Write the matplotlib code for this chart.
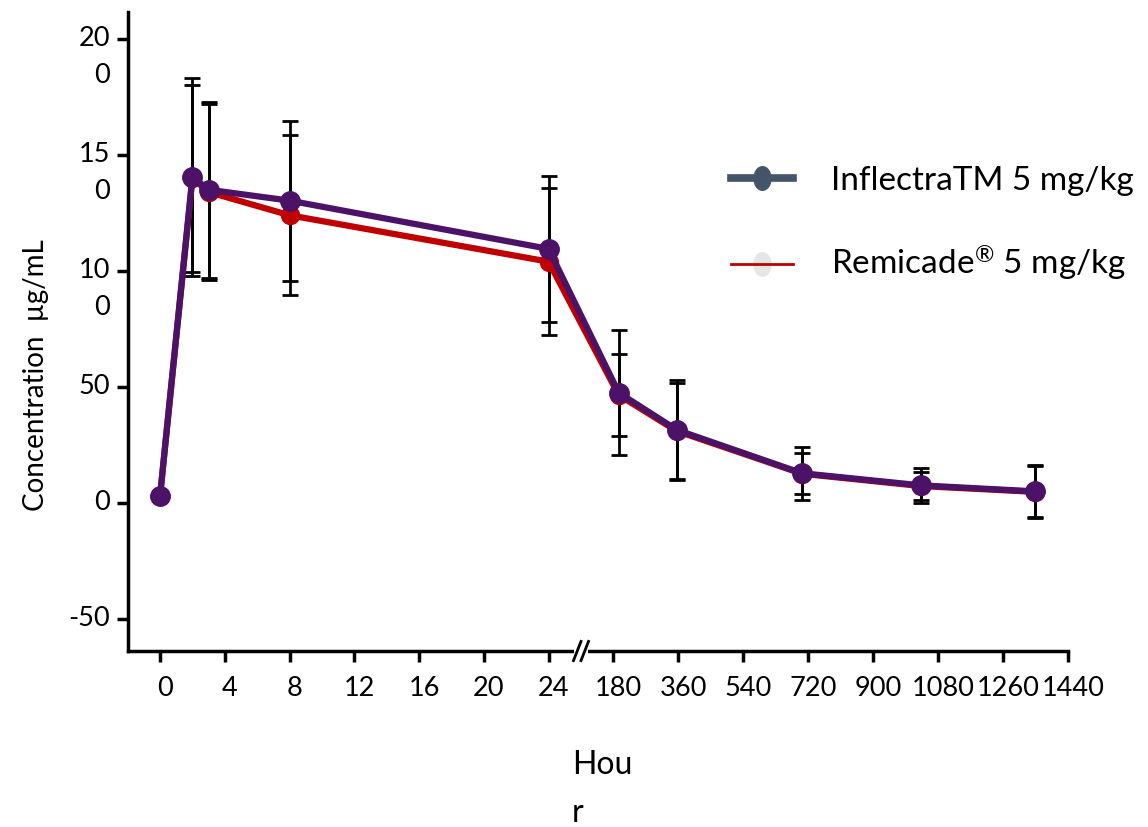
import numpy as np
import matplotlib
matplotlib.use("Agg")
import matplotlib.pyplot as plt
import matplotlib.transforms as mtransforms
from matplotlib.lines import Line2D
from matplotlib.path import Path
from matplotlib.legend_handler import HandlerTuple

plt.rcParams['font.family'] = ['Lato', 'DejaVu Sans']
plt.rcParams['mathtext.fontset'] = 'custom'
plt.rcParams['mathtext.rm'] = 'Lato'
plt.rcParams['mathtext.it'] = 'Lato'

# time points (hours) and mean +/- SD concentrations
hours = [0, 2, 3, 8, 24, 195, 356, 703, 1032, 1348]

inflectra_mean = [3, 140.5, 135, 130.3, 109.5, 47.5, 31.5, 12.8, 7.6, 5.0]
inflectra_sd = [2, 42.5, 38, 34.5, 31.5, 27, 21.5, 11.5, 7.5, 11.5]

remicade_mean = [3, 140, 134, 124, 104, 46.5, 31, 12.6, 7.3, 4.8]
remicade_sd = [2, 40.3, 38, 34.5, 31.7, 17.8, 20.5, 8.8, 6.0, 11.0]

xticks = [0, 4, 8, 12, 16, 20, 24, 180, 360, 540, 720, 900, 1080, 1260, 1440]
yticks = [-50, 0, 50, 100, 150, 200]
ytick_labels = ['-50', '0', '50', '10\n0', '15\n0', '20\n0']

PURPLE = '#4B1268'
RED = '#C00000'

# broken time axis: 0-24 h stretched, 180-1440 h compressed
A = 16.19          # units per hour below 24 h
B = 0.3609         # units per hour above 180 h
P24 = 24 * A
P180 = 453.3


def fwd(h):
    h = np.asarray(h, dtype=float)
    mid = P24 + (h - 24) * (P180 - P24) / 156.0
    return np.where(h <= 24, h * A, np.where(h < 180, mid, P180 + (h - 180) * B))


def inv(p):
    p = np.asarray(p, dtype=float)
    mid = 24 + (p - P24) * 156.0 / (P180 - P24)
    return np.where(p <= P24, p / A, np.where(p < P180, mid, 180 + (p - P180) / B))


fig = plt.figure(figsize=(11.48, 8.27), dpi=100)
ax = fig.add_axes([128 / 1148, 1 - 651 / 827, 940 / 1148, 639 / 827])
ax.set_xscale('function', functions=(fwd, inv))

ax.errorbar(hours, remicade_mean, yerr=remicade_sd, fmt='none', ecolor='black',
            elinewidth=2, capsize=6, capthick=2, zorder=2)
ax.errorbar(hours, inflectra_mean, yerr=inflectra_sd, fmt='none', ecolor='black',
            elinewidth=2, capsize=6, capthick=2, zorder=2)
ax.plot(hours, remicade_mean, color=RED, lw=4.5, marker='o', ms=13,
        mfc=RED, mec=RED, zorder=3)
ax.plot(hours, inflectra_mean, color=PURPLE, lw=4.5, marker='o', ms=14,
        mfc=PURPLE, mec=PURPLE, zorder=4)

ax.set_xlim(-1.98, 1440)
ax.set_ylim(-63.8, 211.6)

ax.set_xticks(xticks)
ax.set_xticklabels([str(t) for t in xticks], fontsize=19.5)
ax.set_yticks(yticks)
ax.set_yticklabels(ytick_labels, fontsize=19.5)
ax.minorticks_off()

for side in ['top', 'right']:
    ax.spines[side].set_visible(False)
for side in ['left', 'bottom']:
    ax.spines[side].set_linewidth(2.5)
ax.tick_params(axis='both', direction='out', length=8, width=2.5, pad=5)
ax.tick_params(axis='x', pad=10)

# keep the first line of wrapped y labels level with its tick
yoff = mtransforms.ScaledTranslation(0, 0.13, fig.dpi_scale_trans)
for lab in ax.get_yticklabels():
    lab.set_verticalalignment('top')
    lab.set_linespacing(1.6)
    lab.set_transform(lab.get_transform() + yoff)
xoff = mtransforms.ScaledTranslation(0.05, 0, fig.dpi_scale_trans)
for lab in ax.get_xticklabels():
    lab.set_transform(lab.get_transform() + xoff)

ax.set_ylabel('Concentration  µg/mL', fontsize=20)
ax.yaxis.set_label_coords(-0.084, 0.432)
fig.text(572 / 1148, 1 - 750 / 827, 'Hou\nr', fontsize=23, ha='left', va='top',
         linespacing=1.75)

# axis break marks
bx = (581 - 128) / 940
ax.add_patch(plt.Rectangle((bx - 0.007, -0.01), 0.014, 0.02, transform=ax.transAxes,
                           facecolor='white', edgecolor='none', clip_on=False, zorder=5))
for dx in (-0.004, 0.004):
    ax.plot([bx + dx - 0.004, bx + dx + 0.004], [-0.015, 0.015], transform=ax.transAxes,
            color='black', lw=2, clip_on=False, zorder=6)

# legend
ellipse = Path.unit_circle().transformed(mtransforms.Affine2D().scale(0.72, 1.0))
h_inf = Line2D([], [], color='#44546A', lw=5.5, marker=ellipse, ms=17,
               mfc='#44546A', mec='#44546A')
h_rem_marker = Line2D([], [], ls='none', marker=ellipse, ms=17,
                      mfc='#E7E6E6', mec='#E7E6E6')
h_rem_line = Line2D([], [], color=RED, lw=2)
fig.legend([h_inf, (h_rem_marker, h_rem_line)],
           ['InflectraTM 5 mg/kg', r'Remicade$^{\mathrm{®}}$ 5 mg/kg'],
           handler_map={tuple: HandlerTuple(ndivide=1)},
           loc='upper left', bbox_to_anchor=(731 / 1148, 1 - 166 / 827),
           frameon=False, fontsize=24, handlelength=1.85, handletextpad=1.15,
           labelspacing=1.45, borderpad=0, borderaxespad=0)

fig.savefig('out.png', dpi=100)
